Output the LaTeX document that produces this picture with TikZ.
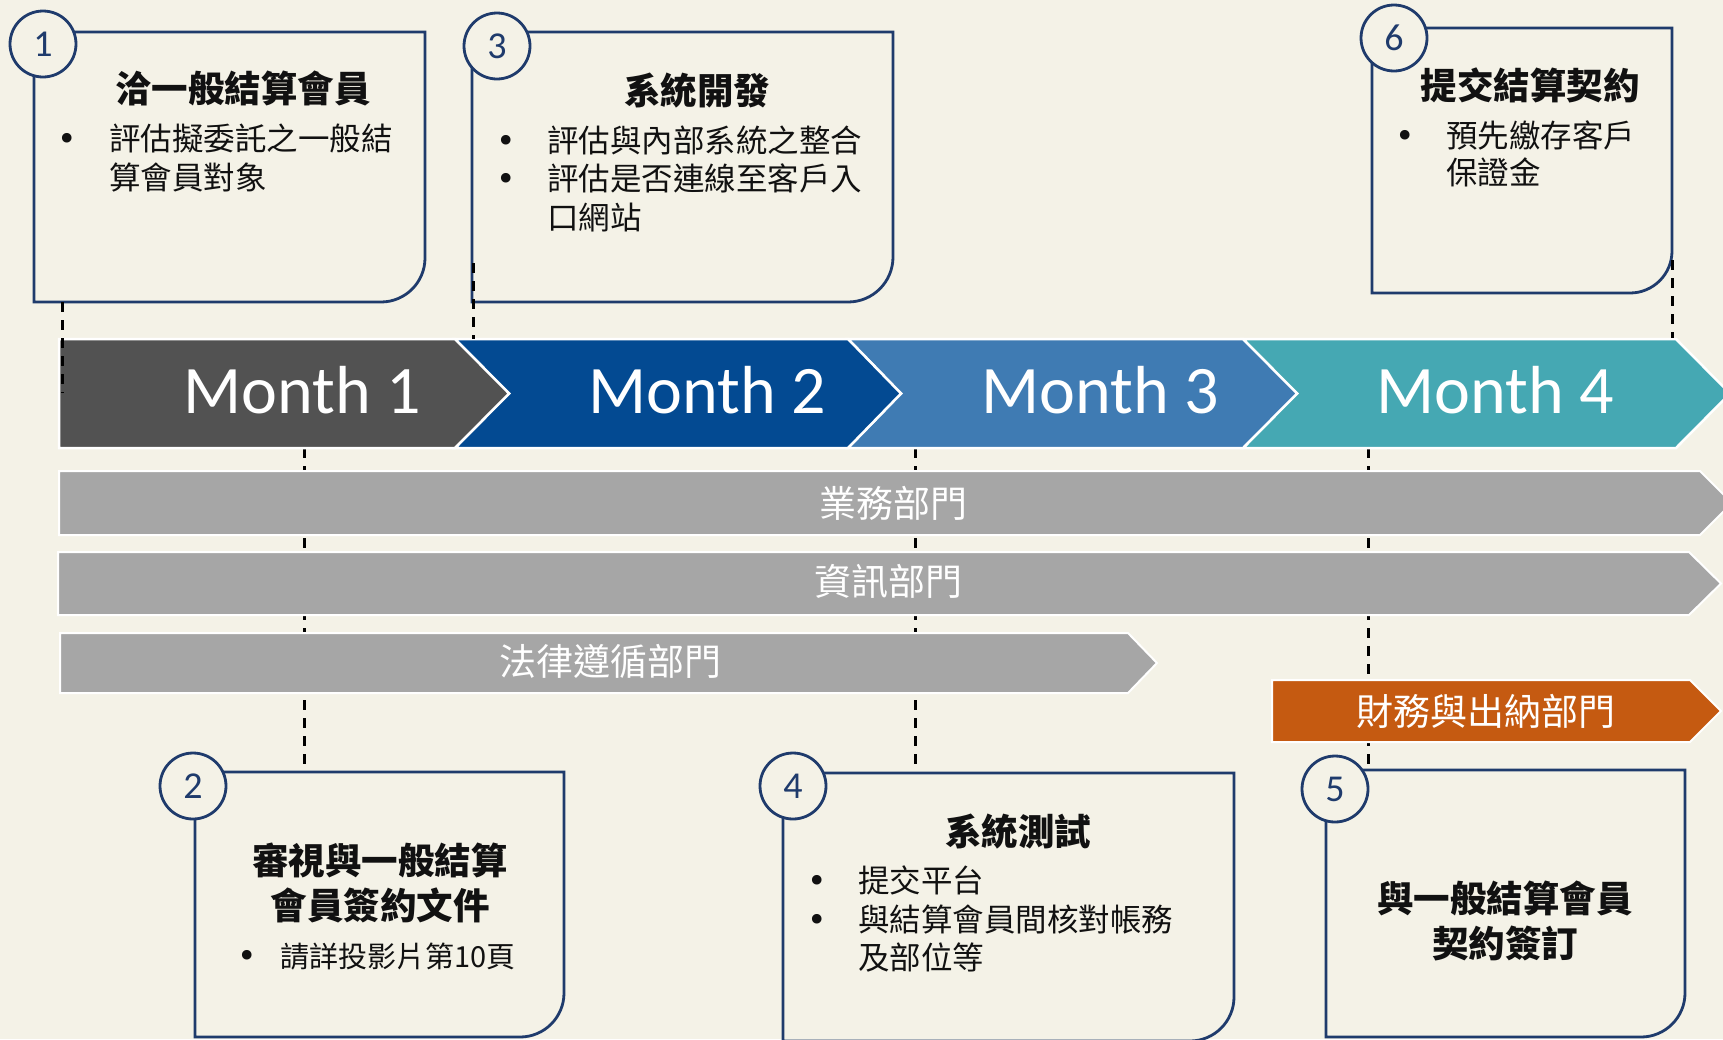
\documentclass[tikz,border=0pt]{standalone}
\usepackage{fontspec}
\setmainfont{Carlito}
\newfontfamily\cjk{Noto Sans CJK TC}
\newfontfamily\carl{Carlito}
\newfontfamily\dvs{DejaVu Sans}
\definecolor{bgc}{HTML}{F4F2E7}
\definecolor{navy}{HTML}{1F3B6C}
\definecolor{mone}{HTML}{525252}
\definecolor{mtwo}{HTML}{034A92}
\definecolor{mthree}{HTML}{3F7BB3}
\definecolor{mfour}{HTML}{45A8B3}
\definecolor{barg}{HTML}{A6A6A6}
\definecolor{orng}{HTML}{C55A11}
\definecolor{ink}{HTML}{111111}
\begin{document}
\begin{tikzpicture}[x=1pt,y=-1pt,
  box/.style={draw=navy, line width=2.8pt, fill=bgc},
  numc/.style={circle, draw=navy, line width=2.8pt, fill=bgc, minimum size=66pt, inner sep=0pt, text=navy, font=\carl\fontsize{38}{38}\selectfont},
  chev/.style={draw=white, line width=2.5pt},
  bar/.style={draw=white, line width=2pt},
  dline/.style={draw=black, line width=3pt, dash pattern=on 10pt off 8pt},
  ttl/.style={anchor=base, inner sep=0pt, text=ink, font=\cjk\bfseries\fontsize{36.5}{36.5}\selectfont},
  itm/.style={anchor=base west, inner sep=0pt, text=ink, font=\cjk\fontsize{31.5}{31.5}\selectfont},
  itms/.style={anchor=base west, inner sep=0pt, text=ink, font=\cjk\fontsize{29}{29}\selectfont},
  bul/.style={anchor=base, inner sep=0pt, text=ink, font=\dvs\fontsize{33}{33}\selectfont},
  mon/.style={anchor=base, inner sep=0pt, text=white, font=\carl\fontsize{68}{68}\selectfont},
  dept/.style={anchor=base, inner sep=0pt, text=white, font=\cjk\fontsize{37}{37}\selectfont}
]
\useasboundingbox (0,0) rectangle (1723,1039);
\clip (0,0) rectangle (1723,1039);
\fill[bgc] (0,0) rectangle (1723,1039);

% connector end points
\coordinate (p1t) at (62,302);   \coordinate (p1b) at (62,393);
\coordinate (p2t) at (304,448);  \coordinate (p2b) at (304,772);
\coordinate (p3t) at (473,263);  \coordinate (p3b) at (473,339);
\coordinate (p4t) at (915,448);  \coordinate (p4b) at (915,773);
\coordinate (p5t) at (1368,448); \coordinate (p5b) at (1368,778);
\coordinate (p6t) at (1672,260); \coordinate (p6b) at (1672,338);

% dashed lines behind the bars
\draw[dline] (p2t) -- (p2b);
\draw[dline] (p4t) -- (p4b);
\draw[dline] (p5t) -- (p5b);

% month chevrons
\path[chev, fill=mfour] (1243,339) -- (1676,339) -- (1730,393.5) -- (1676,448) -- (1243,448) -- (1297,393.5) -- cycle;
\path[chev, fill=mthree] (848,339) -- (1243,339) -- (1297,393.5) -- (1243,448) -- (848,448) -- (901,393.5) -- cycle;
\path[chev, fill=mtwo] (455,339) -- (848,339) -- (901,393.5) -- (848,448) -- (455,448) -- (509,393.5) -- cycle;
\path[chev, fill=mone] (59,339) -- (455,339) -- (509,393.5) -- (455,448) -- (59,448) -- cycle;

% department bars
\path[bar, fill=barg] (59,471) -- (1700,471) -- (1732,503) -- (1700,535) -- (59,535) -- cycle;
\path[bar, fill=barg] (58,552) -- (1689,552) -- (1721,583.5) -- (1689,615) -- (58,615) -- cycle;
\path[bar, fill=barg] (60,633) -- (1128,633) -- (1157,663) -- (1128,693) -- (60,693) -- cycle;
\path[bar, fill=orng] (1272,680) -- (1690,680) -- (1721,711) -- (1690,742) -- (1272,742) -- cycle;

% boxes
\draw[box] (34,32) -- (425,32) -- (425,258) .. controls (425,282.3) and (405.3,302) .. (381,302) -- (34,302) -- cycle;
\draw[box] (472,32) -- (893,32) -- (893,257) .. controls (893,281.9) and (872.9,302) .. (848,302) -- (472,302) -- cycle;
\draw[box] (1372,28) -- (1672,28) -- (1672,251) .. controls (1672,274.2) and (1653.2,293) .. (1630,293) -- (1372,293) -- cycle;
\draw[box] (195,772) -- (564,772) -- (564,993) .. controls (564,1017.3) and (544.3,1037) .. (520,1037) -- (195,1037) -- cycle;
\draw[box] (783,773) -- (1234,773) -- (1234,997) .. controls (1234,1021.3) and (1214.3,1041) .. (1190,1041) -- (783,1041) -- cycle;
\draw[box] (1326,770) -- (1685,770) -- (1685,993) .. controls (1685,1017.3) and (1665.3,1037) .. (1641,1037) -- (1326,1037) -- cycle;

% dashed lines on top
\draw[dline] (p1t) -- (p1b);
\draw[dline] (p3t) -- (p3b);
\draw[dline] (p6t) -- (p6b);

% number circles
\node[numc] (c1) at (43,44) {1};
\node[numc] (c3) at (497,46) {3};
\node[numc] (c6) at (1394,38) {6};
\node[numc] (c2) at (193,786) {2};
\node[numc] (c4) at (793,786) {4};
\node[numc] (c5) at (1335,789) {5};

% month labels
\node[mon] (m1) at (302,413) {Month 1};
\node[mon] (m2) at (707,413) {Month 2};
\node[mon] (m3) at (1100,413) {Month 3};
\node[mon] (m4) at (1495,413) {Month 4};

% department labels
\node[dept] (d1) at (893,517) {業務部門};
\node[dept] (d2) at (888,595) {資訊部門};
\node[dept] (d3) at (610,675) {法律遵循部門};
\node[dept] (d4) at (1486,725) {財務與出納部門};

% box 1
\node[ttl] (t1) at (243,102) {洽一般結算會員};
\node[bul] (b1a) at (67,150) {•};
\node[itm] (i1a) at (109,150) {評估擬委託之一般結};
\node[itm] (i1b) at (109,189) {算會員對象};

% box 3
\node[ttl] (t3) at (697,104) {系統開發};
\node[bul] (b3a) at (506,152) {•};
\node[bul] (b3b) at (506,190) {•};
\node[itm] (i3a) at (547,152) {評估與內部系統之整合};
\node[itm] (i3b) at (547,190) {評估是否連線至客戶入};
\node[itm] (i3c) at (547,229) {口網站};

% box 6
\node[ttl] (t6) at (1530,99) {提交結算契約};
\node[bul] (b6a) at (1405,147) {•};
\node[itm] (i6a) at (1446,147) {預先繳存客戶};
\node[itm] (i6b) at (1446,184) {保證金};

% box 2
\node[ttl] (t2a) at (380,874) {審視與一般結算};
\node[ttl] (t2b) at (380,919) {會員簽約文件};
\node[bul] (b2a) at (247,967) {•};
\node[itms] (i2a) at (280,967) {請詳投影片第10頁};

% box 4
\node[ttl] (t4) at (1018,845) {系統測試};
\node[bul] (b4a) at (817,892) {•};
\node[bul] (b4b) at (817,931) {•};
\node[itm] (i4a) at (858,892) {提交平台};
\node[itm] (i4b) at (858,931) {與結算會員間核對帳務};
\node[itm] (i4c) at (858,969) {及部位等};

% box 5
\node[ttl] (t5a) at (1505,912) {與一般結算會員};
\node[ttl] (t5b) at (1505,957) {契約簽訂};
\end{tikzpicture}
\end{document}
